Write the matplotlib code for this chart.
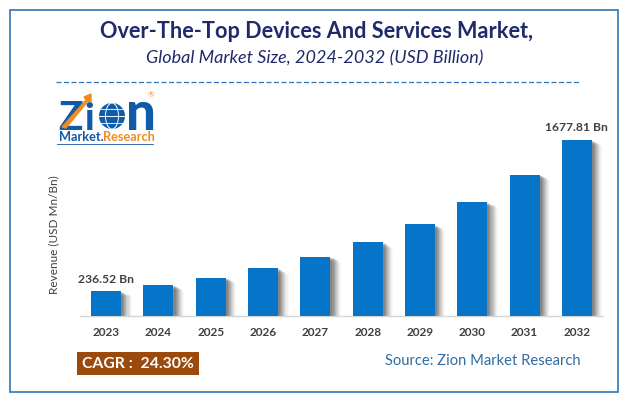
import matplotlib
matplotlib.use('Agg')
import matplotlib.pyplot as plt
from matplotlib.patches import Rectangle, Polygon, Circle, Ellipse

plt.rcParams['font.family'] = ['Lato', 'DejaVu Sans']

years = ['2023', '2024', '2025', '2026', '2027', '2028', '2029', '2030', '2031', '2032']
revenue = [236.52, 294, 365, 454, 565, 702, 873, 1085, 1349, 1677.81]
first_label = '236.52 Bn'
last_label = '1677.81 Bn'

W, H = 626, 400
BLUE = '#0675c9'
NAVY = '#1f2a6b'
GREY = '#404040'
LOGO_BLUE = '#0f5ba7'
LOGO_ORANGE = '#f28c1e'

fig = plt.figure(figsize=(W / 100, H / 100), dpi=100, facecolor='white')

# whole figure overlay in pixel coordinates, y going down
bg = fig.add_axes([0, 0, 1, 1])
bg.set_xlim(0, W)
bg.set_ylim(H, 0)
bg.axis('off')

# chart area
ax = fig.add_axes([80 / W, 1 - 316 / H, 523 / W, 190 / H])
ax.patch.set_alpha(0)
x = range(len(years))

# soft shadow to the right of each bar, outer layers are fainter and shorter
shadow_layers = [(0.20, 0.03, 60), (0.18, 0.05, 50), (0.16, 0.07, 40), (0.14, 0.09, 35),
                 (0.12, 0.11, 30), (0.10, 0.13, 25), (0.08, 0.15, 20), (0.06, 0.18, 15),
                 (0.04, 0.20, 10)]
for dx, alpha, drop in shadow_layers:
    ax.bar([i + dx for i in x], [v - drop for v in revenue], width=0.575, color='#4a4a4a',
           alpha=alpha, linewidth=0)
ax.bar(x, revenue, width=0.575, color=BLUE, linewidth=0, zorder=3)

ax.set_xlim(-0.5, 9.5)
ax.set_ylim(0, 1812)
ax.set_yticks([])
ax.set_xticks(list(x))
ax.set_xticklabels(years, fontsize=8.5, fontweight='bold', color=GREY)
ax.tick_params(axis='x', length=0, pad=8)
for s in ['top', 'left', 'right']:
    ax.spines[s].set_visible(False)
ax.spines['bottom'].set_color('#d6d6d6')
ax.spines['bottom'].set_linewidth(1)

ax.annotate(first_label, (0, revenue[0]), xytext=(0, 4.5), textcoords='offset points',
            ha='center', va='bottom', fontsize=8.7, fontweight='bold', color=GREY)
ax.annotate(last_label, (9, revenue[-1]), xytext=(0, 5), textcoords='offset points',
            ha='center', va='bottom', fontsize=8.7, fontweight='bold', color=GREY)

# frame
bg.add_patch(Rectangle((9.5, 9.5), 608.5, 382.5, fill=False, edgecolor='#2e75b6', linewidth=1.2))

# titles
bg.text(316, 31, 'Over-The-Top Devices And Services Market,', ha='center', va='center',
        fontsize=15.6, fontweight='bold', color=NAVY)
bg.text(315, 58, 'Global Market Size, 2024-2032 (USD Billion)', ha='center', va='center',
        fontsize=13, style='italic', color=NAVY)
bg.plot([56, 580], [82, 82], color='#2e75b6', linewidth=0.9, dashes=(4, 2))

bg.text(54, 235, 'Revenue (USD Mn/Bn)', rotation=90, ha='center', va='center',
        fontsize=8.5, color=GREY)

# logo
bg.text(58, 130, 'Z', fontsize=29, fontweight='black', color=LOGO_BLUE, va='baseline', ha='left')
bg.text(84, 130, 'i', fontsize=27, fontweight='black', color=LOGO_BLUE, va='baseline', ha='left')
bg.add_patch(Polygon([(62, 127), (86, 100), (84, 97), (91, 94), (91, 102), (88, 101), (66, 128)],
                     color=LOGO_ORANGE, zorder=4))
bg.add_patch(Circle((112, 116), 13, facecolor=LOGO_BLUE, edgecolor='none'))
bg.add_patch(Ellipse((112, 116), 13, 26, fill=False, edgecolor='white', linewidth=0.7))
bg.plot([99, 125], [116, 116], color='white', linewidth=0.7)
bg.plot([101, 123], [109, 109], color='white', linewidth=0.6)
bg.plot([101, 123], [123, 123], color='white', linewidth=0.6)
bg.text(126, 130, 'n', fontsize=38, fontweight='black', color=LOGO_BLUE, va='baseline', ha='left')
bg.text(151, 95, '®', fontsize=5.5, color=LOGO_ORANGE, va='center', ha='center')
bg.text(59, 141, 'Market.', fontsize=9.2, fontweight='bold', color=LOGO_BLUE, va='baseline', ha='left')
bg.text(103, 141, 'Research', fontsize=9.2, fontweight='bold', color=LOGO_ORANGE, va='baseline', ha='left')
bg.plot([57, 153], [143.5, 143.5], color=LOGO_BLUE, linewidth=0.6)

# CAGR box and source
bg.add_patch(Rectangle((77, 352), 122, 23, facecolor='#9c4a0c', edgecolor='none'))
bg.text(138, 364, 'CAGR :  24.30%', ha='center', va='center', fontsize=11.3,
        fontweight='bold', color='white')
bg.text(483, 361, 'Source: Zion Market Research', ha='center', va='center',
        fontsize=10.6, color='#2f6ca3')

fig.savefig('out.png', dpi=100)
